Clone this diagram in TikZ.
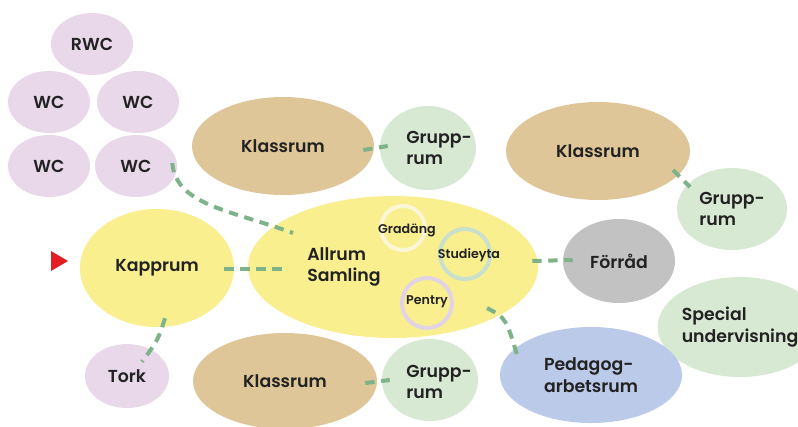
\documentclass[tikz,border=0pt]{standalone}
\usepackage{fontspec}
\setmainfont{Poppins}[UprightFont=* SemiBold]
\usetikzlibrary{calc,shapes.geometric}
\definecolor{wcpurple}{RGB}{232,216,234}
\definecolor{klasstan}{RGB}{223,198,152}
\definecolor{gruppgreen}{RGB}{215,233,211}
\definecolor{allyellow}{RGB}{249,239,143}
\definecolor{forradgrey}{RGB}{194,194,194}
\definecolor{pedablue}{RGB}{187,202,233}
\definecolor{linkgreen}{RGB}{126,178,136}
\definecolor{textdark}{RGB}{34,34,34}
\definecolor{ringcream}{RGB}{251,246,214}
\definecolor{ringgreen}{RGB}{201,224,204}
\definecolor{ringpurple}{RGB}{226,211,230}
\definecolor{startred}{RGB}{226,30,36}
\tikzset{
	room/.style n args={3}{ellipse, inner sep=0pt, fill=#1, minimum width=#2*1.5pt, minimum height=#3*1.5pt, text=textdark, font=\fontsize{13}{16}\selectfont, align=left},
	ring/.style 2 args={circle, inner sep=0pt, draw=#1, line width=3pt, minimum size=#2*1.5pt},
	spotlabel/.style={text=textdark, font=\fontsize{9.5}{11}\selectfont},
	roomlabel/.style={text=textdark, font=\fontsize{13}{16}\selectfont, align=left, inner sep=0pt},
	link/.style={draw=linkgreen, line width=3pt, dash pattern=on 7pt off 5pt}
}

\begin{document}
\begin{tikzpicture}[x=0.75pt, y=-0.75pt]
	\useasboundingbox[fill=white] (0,0) rectangle (798,426);

	\node[room={wcpurple}{41}{31}] (rwc) at (92,44) {RWC};
	\node[room={wcpurple}{41}{31}] (wca) at (49,102) {WC};
	\node[room={wcpurple}{41}{31}] (wcb) at (138,102) {WC};
	\node[room={wcpurple}{41}{31}] (wcc) at (49,166) {WC};
	\node[room={wcpurple}{41}{31}] (wcd) at (136,166) {WC};

	\node[room={klasstan}{91}{49}] (klassa) at (283,146) {Klassrum};
	\node[room={gruppgreen}{48}{42}] (gruppa) at (428,148) {};
	\node[roomlabel] (gruppatext) at (439,148) {Grupp-\\rum};

	\node[room={klasstan}{92}{49}] (klassb) at (598,151) {Klassrum};
	\node[room={gruppgreen}{55}{41}] (gruppb) at (732,209) {Grupp-\\rum};

	\node[room={allyellow}{77}{59}] (kapprum) at (157,268) {Kapprum};
	\node[room={allyellow}{145}{71}] (allrum) at (393,267) {};
	\node[roomlabel, anchor=west] (allrumtext) at (307,267) {Allrum\\Samling};

	\node[ring={ringcream}{22}] (gradang) at (403,228) {};
	\node[ring={ringgreen}{25}] (studieyta) at (465,254) {};
	\node[ring={ringpurple}{25}] (pentry) at (427,303) {};
	\node[spotlabel] (gradangtext) at (407,230) {Gradäng};
	\node[spotlabel] (studieytatext) at (469,255) {Studieyta};
	\node[spotlabel] (pentrytext) at (427,302) {Pentry};

	\node[room={forradgrey}{56}{42}] (forrad) at (619,261) {Förråd};
	\node[room={gruppgreen}{62}{50}] (special) at (740,327) {Special\\undervisning};
	\node[room={pedablue}{91}{48}] (pedagog) at (591,375) {Pedagog-\\arbetsrum};

	\node[room={wcpurple}{42}{32}] (tork) at (127,376) {Tork};
	\node[room={klasstan}{92}{48}] (klassc) at (285,381) {Klassrum};
	\node[room={gruppgreen}{48}{41}] (gruppc) at (430,380) {};
	\node[roomlabel] (gruppctext) at (439,382) {Grupp-\\rum};

	\fill[startred] (51,251) -- (68,261) -- (51,271) -- cycle;

	\draw[link] ($(wcd.east)+(-5,-3)$) .. controls (176,205) and (230,210) .. ($(allrum.center)+(-100,-34)$);
	\draw[link] ($(kapprum.east)+(-10,1)$) -- ($(allrum.west)+(35,2)$);
	\draw[link] ($(kapprum.south)+(8,-9)$) .. controls (158,340) .. ($(tork.north)+(15,18)$);
	\draw[link] ($(klassa.east)+(-11,4)$) -- ($(gruppa.west)+(8,-2)$);
	\draw[link] ($(klassb.center)+(75,19)$) -- ($(gruppb.center)+(-42,-22)$);
	\draw[link] ($(allrum.east)+(-6,-6)$) -- ($(forrad.west)+(10,-1)$);
	\draw[link] ($(allrum.center)+(94,41)$) .. controls (506,318) .. ($(pedagog.center)+(-73,-17)$);
	\draw[link] ($(klassc.east)+(-12,2)$) -- ($(gruppc.west)+(8,0)$);
\end{tikzpicture}
\end{document}
